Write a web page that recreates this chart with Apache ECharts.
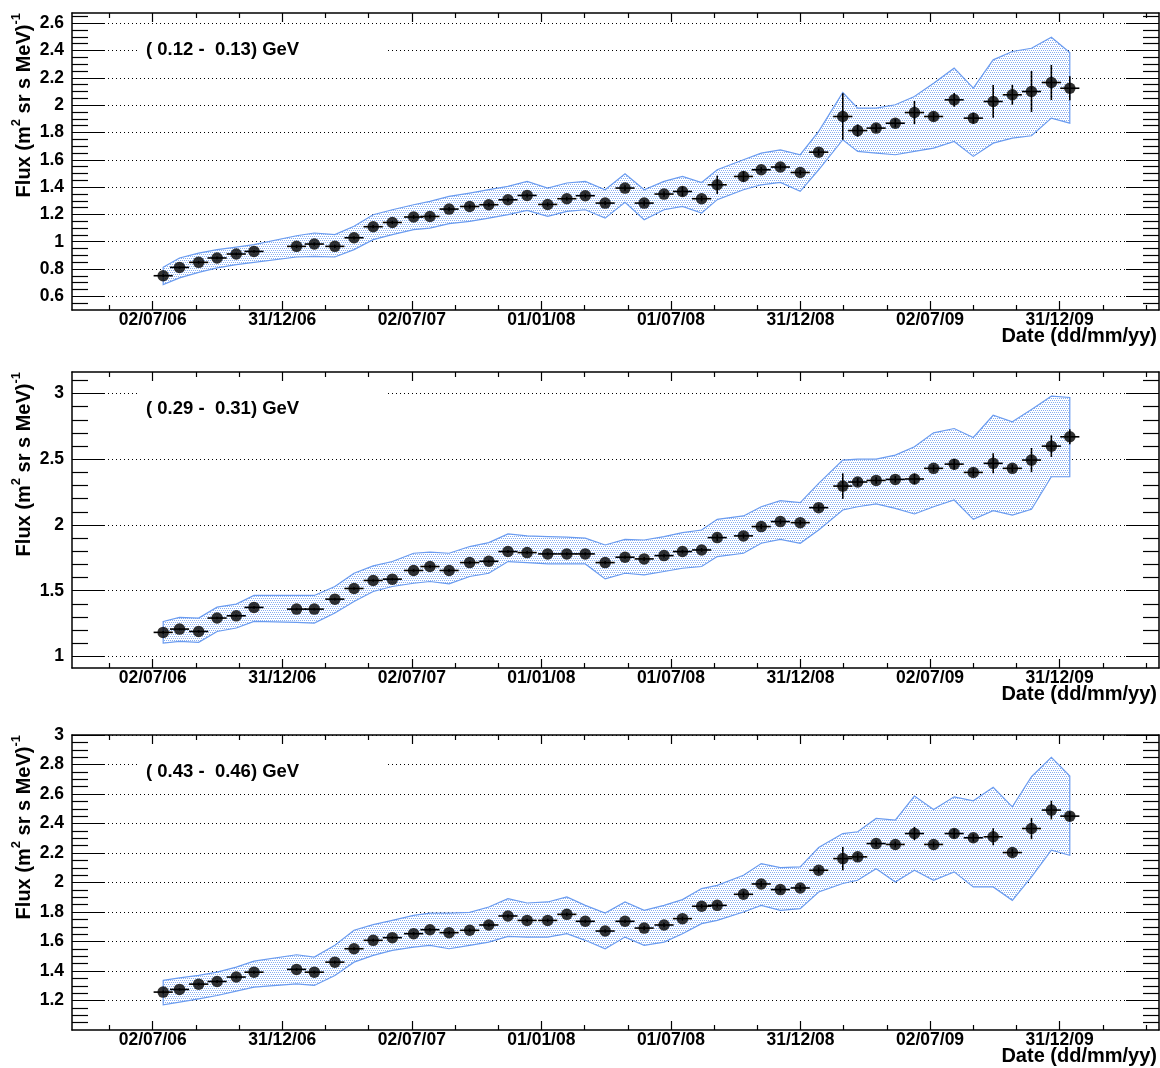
<!DOCTYPE html>
<html>
<head>
<meta charset="utf-8">
<title>Proton flux time profiles</title>
<script src="https://cdn.jsdelivr.net/npm/echarts@6/dist/echarts.min.js"></script>
<style>
  html, body { margin: 0; padding: 0; background: #fff; }
  #chart { width: 1160px; height: 1068px; }
</style>
</head>
<body>
<div id="chart"></div>
<script>
// ---------------------------------------------------------------------------
// Data: one flux value per 27-day interval (mid dates), statistical errors,
// and the upper / lower edges of the systematic-uncertainty band.
// ---------------------------------------------------------------------------
const dates = [
  '2006-07-17', '2006-08-09', '2006-09-05', '2006-10-01', '2006-10-28', '2006-11-22',
  '2007-01-21', '2007-02-15', '2007-03-16', '2007-04-12', '2007-05-09', '2007-06-05',
  '2007-07-05', '2007-07-28', '2007-08-24', '2007-09-22', '2007-10-19', '2007-11-15',
  '2007-12-12', '2008-01-10', '2008-02-06', '2008-03-03', '2008-03-31', '2008-04-28',
  '2008-05-25', '2008-06-22', '2008-07-18', '2008-08-14', '2008-09-05', '2008-10-12',
  '2008-11-06', '2008-12-03', '2008-12-31', '2009-01-26', '2009-03-01', '2009-03-22',
  '2009-04-17', '2009-05-14', '2009-06-10', '2009-07-07', '2009-08-05', '2009-09-01',
  '2009-09-29', '2009-10-26', '2009-11-22', '2009-12-20', '2010-01-15'
];
const HALF_BIN_DAYS = 13.5;

const energyBins = ['( 0.12 -  0.13) GeV', '( 0.29 -  0.31) GeV', '( 0.43 -  0.46) GeV'];

// 0.12 - 0.13 GeV
const flux1 = [0.751, 0.812, 0.849, 0.881, 0.910, 0.929, 0.966, 0.983, 0.966, 1.029, 1.110, 1.141,
  1.181, 1.185, 1.239, 1.258, 1.271, 1.307, 1.339, 1.273, 1.315, 1.337, 1.283, 1.393,
  1.283, 1.349, 1.368, 1.315, 1.417, 1.478, 1.527, 1.547, 1.507, 1.656,
  1.917, 1.814, 1.832, 1.868, 1.946, 1.917, 2.039, 1.905, 2.027, 2.076, 2.100, 2.166, 2.124];
const err1 = [0.010, 0.010, 0.010, 0.010, 0.010, 0.010, 0.012, 0.012, 0.012, 0.012, 0.012, 0.012,
  0.015, 0.015, 0.015, 0.015, 0.015, 0.015, 0.015, 0.015, 0.015, 0.015, 0.015, 0.020,
  0.020, 0.020, 0.035, 0.020, 0.067, 0.037, 0.020, 0.020, 0.020, 0.025,
  0.170, 0.045, 0.030, 0.030, 0.085, 0.030, 0.050, 0.040, 0.120, 0.073, 0.150, 0.128, 0.088];
const sysHigh1 = [0.813, 0.881, 0.917, 0.942, 0.961, 0.979, 1.044, 1.064, 1.052, 1.113, 1.198, 1.234,
  1.271, 1.295, 1.332, 1.356, 1.381, 1.405, 1.442, 1.393, 1.430, 1.442, 1.381, 1.498,
  1.381, 1.442, 1.478, 1.434, 1.527, 1.600, 1.649, 1.673, 1.637, 1.808,
  2.093, 1.978, 1.978, 2.003, 2.064, 2.161, 2.271, 2.125, 2.332, 2.393, 2.417, 2.498, 2.385];
const sysLow1 = [0.686, 0.735, 0.776, 0.808, 0.832, 0.849, 0.888, 0.893, 0.888, 0.942, 1.015, 1.052,
  1.088, 1.100, 1.132, 1.149, 1.173, 1.198, 1.230, 1.186, 1.222, 1.234, 1.173, 1.288,
  1.161, 1.234, 1.259, 1.210, 1.308, 1.381, 1.417, 1.434, 1.369, 1.527,
  1.747, 1.661, 1.649, 1.637, 1.661, 1.686, 1.734, 1.625, 1.722, 1.759, 1.776, 1.905, 1.868];

// 0.29 - 0.31 GeV
const flux2 = [1.183, 1.208, 1.190, 1.292, 1.309, 1.373, 1.360, 1.360, 1.436, 1.517, 1.578, 1.588,
  1.654, 1.684, 1.654, 1.714, 1.724, 1.798, 1.790, 1.780, 1.780, 1.780, 1.714, 1.755,
  1.742, 1.767, 1.798, 1.810, 1.904, 1.917, 1.988, 2.026, 2.018, 2.132,
  2.296, 2.327, 2.339, 2.347, 2.350, 2.431, 2.463, 2.400, 2.469, 2.431, 2.494, 2.600, 2.671];
const err2 = [0.010, 0.010, 0.010, 0.010, 0.010, 0.010, 0.010, 0.010, 0.010, 0.010, 0.010, 0.010,
  0.012, 0.012, 0.012, 0.012, 0.012, 0.012, 0.012, 0.012, 0.012, 0.012, 0.012, 0.012,
  0.015, 0.015, 0.015, 0.015, 0.025, 0.020, 0.020, 0.020, 0.020, 0.025,
  0.097, 0.030, 0.025, 0.025, 0.040, 0.025, 0.040, 0.030, 0.076, 0.030, 0.092, 0.082, 0.057];
const sysHigh2 = [1.266, 1.297, 1.292, 1.375, 1.398, 1.464, 1.464, 1.464, 1.532, 1.633, 1.689, 1.722,
  1.785, 1.793, 1.785, 1.836, 1.866, 1.932, 1.917, 1.912, 1.907, 1.900, 1.848, 1.891,
  1.886, 1.912, 1.942, 1.962, 2.043, 2.069, 2.139, 2.185, 2.170, 2.317,
  2.494, 2.501, 2.501, 2.532, 2.595, 2.701, 2.734, 2.666, 2.835, 2.785, 2.879, 2.980, 2.970];
const sysLow2 = [1.102, 1.114, 1.107, 1.190, 1.216, 1.266, 1.259, 1.254, 1.330, 1.418, 1.494, 1.532,
  1.557, 1.570, 1.552, 1.608, 1.633, 1.722, 1.714, 1.704, 1.704, 1.704, 1.590, 1.633,
  1.621, 1.646, 1.671, 1.684, 1.760, 1.785, 1.861, 1.891, 1.861, 1.962,
  2.114, 2.139, 2.160, 2.127, 2.084, 2.139, 2.190, 2.043, 2.109, 2.076, 2.119, 2.367, 2.367];

// 0.43 - 0.46 GeV
const flux3 = [1.257, 1.275, 1.311, 1.329, 1.359, 1.392, 1.411, 1.392, 1.460, 1.551, 1.608, 1.626,
  1.653, 1.680, 1.660, 1.676, 1.712, 1.773, 1.743, 1.743, 1.784, 1.737, 1.671, 1.737,
  1.691, 1.712, 1.755, 1.839, 1.845, 1.920, 1.990, 1.952, 1.963, 2.083,
  2.162, 2.174, 2.264, 2.258, 2.332, 2.258, 2.332, 2.303, 2.310, 2.203, 2.366, 2.491, 2.450];
const err3 = [0.010, 0.010, 0.010, 0.010, 0.010, 0.010, 0.010, 0.010, 0.010, 0.010, 0.010, 0.010,
  0.012, 0.012, 0.012, 0.012, 0.012, 0.012, 0.012, 0.012, 0.012, 0.012, 0.012, 0.012,
  0.015, 0.015, 0.015, 0.015, 0.015, 0.020, 0.020, 0.020, 0.020, 0.020,
  0.079, 0.025, 0.020, 0.020, 0.045, 0.020, 0.030, 0.025, 0.057, 0.025, 0.072, 0.063, 0.030];
const sysHigh3 = [1.336, 1.354, 1.370, 1.392, 1.426, 1.467, 1.510, 1.494, 1.574, 1.676, 1.714, 1.743,
  1.777, 1.793, 1.793, 1.798, 1.834, 1.891, 1.861, 1.868, 1.902, 1.845, 1.793, 1.868,
  1.811, 1.845, 1.884, 1.959, 1.981, 2.049, 2.128, 2.101, 2.106, 2.237,
  2.332, 2.344, 2.434, 2.423, 2.586, 2.495, 2.581, 2.554, 2.645, 2.513, 2.717, 2.849, 2.722];
const sysLow3 = [1.171, 1.189, 1.211, 1.234, 1.263, 1.291, 1.313, 1.302, 1.370, 1.460, 1.506, 1.540,
  1.562, 1.574, 1.551, 1.574, 1.596, 1.635, 1.630, 1.630, 1.653, 1.608, 1.551, 1.630,
  1.574, 1.596, 1.653, 1.721, 1.743, 1.800, 1.845, 1.811, 1.823, 1.936,
  1.993, 2.015, 2.094, 2.004, 2.083, 2.015, 2.072, 1.970, 1.970, 1.879, 2.038, 2.219, 2.185];

// Time-axis ticks (every half Julian year) and their labels
const xTickDates = ['2006-07-02T06:00', '2006-12-31T21:00', '2007-07-02T12:00', '2008-01-01T03:00',
  '2008-07-01T18:00', '2008-12-31T09:00', '2009-07-02T00:00', '2009-12-31T15:00'];
const xTickLabels = ['02/07/06', '31/12/06', '02/07/07', '01/01/08',
  '01/07/08', '31/12/08', '02/07/09', '31/12/09'];

// Flux-axis major ticks
const yTicks1 = [0.6, 0.8, 1.0, 1.2, 1.4, 1.6, 1.8, 2.0, 2.2, 2.4, 2.6];
const yTicks2 = [1.0, 1.5, 2.0, 2.5, 3.0];
const yTicks3 = [1.2, 1.4, 1.6, 1.8, 2.0, 2.2, 2.4, 2.6, 2.8, 3.0];

// ---------------------------------------------------------------------------
// Helpers
// ---------------------------------------------------------------------------
const DAY = 86400000;
function toTime(s) {
  return Date.parse(s.length === 10 ? s + 'T00:00:00Z' : s + ':00Z');
}
const xTickTimes = xTickDates.map(toTime);
const HALF_YEAR = xTickTimes[1] - xTickTimes[0];
const X_MIN = xTickTimes[0] - 113.8 * DAY;
const X_MAX = xTickTimes[0] + 1418.5 * DAY;

const xMinorTimes = [];
for (let k = -6; k <= 3 * xTickTimes.length + 6; k++) {
  if (k % 3 === 0) continue;
  const v = xTickTimes[0] + k * HALF_YEAR / 3;
  if (v > X_MIN && v < X_MAX) xMinorTimes.push(v);
}

function minorValues(min, max, step, majors) {
  const out = [];
  for (let v = Math.ceil(min / step - 1e-9) * step; v <= max + 1e-9; v += step) {
    const r = Math.round(v * 1000) / 1000;
    if (!majors.some(m => Math.abs(m - r) < 1e-6) && r > min && r < max) out.push(r);
  }
  return out;
}

function xLabel(v) {
  for (let i = 0; i < xTickTimes.length; i++) {
    if (Math.abs(xTickTimes[i] - v) < DAY) return xTickLabels[i];
  }
  return '';
}

function dotPattern() {
  const c = document.createElement('canvas');
  c.width = 4; c.height = 4;
  const g = c.getContext('2d');
  g.fillStyle = '#ffffff';
  g.fillRect(0, 0, 4, 4);
  g.fillStyle = '#86adf0';
  [[0, 0], [2, 0], [1, 2], [3, 2]].forEach(p => g.fillRect(p[0], p[1], 1, 1));
  return { image: c, repeat: 'repeat' };
}

// ---------------------------------------------------------------------------
// Layout of the three stacked pads
// ---------------------------------------------------------------------------
const FONT = 'Liberation Sans, Arial, Helvetica, sans-serif';
const LEFT = 72, WIDTH = 1087;
const panels = [
  { top: 13, height: 297, yMin: 0.5, yMax: 2.675, ticks: yTicks1, minorStep: 0.05,
    flux: flux1, err: err1, hi: sysHigh1, lo: sysLow1, label: energyBins[0] },
  { top: 372, height: 296, yMin: 0.912, yMax: 3.164, ticks: yTicks2, minorStep: 0.1,
    flux: flux2, err: err2, hi: sysHigh2, lo: sysLow2, label: energyBins[1] },
  { top: 735, height: 295, yMin: 1.0, yMax: 3.0, ticks: yTicks3, minorStep: 0.05,
    flux: flux3, err: err3, hi: sysHigh3, lo: sysLow3, label: energyBins[2] }
];

const grid = [], xAxis = [], yAxis = [], series = [], graphic = [];
const frameLine = { show: true, onZero: false, lineStyle: { color: '#000', width: 1.5 } };
const noLine = { show: false, onZero: false };
const tickLine = { color: '#000', width: 1.2 };
const labelFont = { fontFamily: FONT, fontWeight: 'bold', fontSize: 17.5, color: '#000' };
const pattern = dotPattern();

panels.forEach((p, pi) => {
  grid.push({ left: LEFT, top: p.top, width: WIDTH, height: p.height, outerBoundsMode: 'none', containLabel: false });
  const yMinor = minorValues(p.yMin, p.yMax, p.minorStep, p.ticks);

  const xBase = { type: 'value', gridIndex: pi, min: X_MIN, max: X_MAX, splitLine: { show: false } };
  // bottom: major ticks + labels, minor ticks; top: the same without labels
  xAxis.push(Object.assign({}, xBase, {
    position: 'bottom', axisLine: frameLine,
    axisTick: { show: true, inside: true, length: 9, customValues: xTickTimes, lineStyle: tickLine },
    axisLabel: Object.assign({ show: true, margin: 1, customValues: xTickTimes, formatter: xLabel }, labelFont)
  }));
  xAxis.push(Object.assign({}, xBase, {
    position: 'bottom', axisLine: noLine,
    axisTick: { show: true, inside: true, length: 5, customValues: xMinorTimes, lineStyle: tickLine },
    axisLabel: { show: false }
  }));
  xAxis.push(Object.assign({}, xBase, {
    position: 'top', axisLine: frameLine,
    axisTick: { show: true, inside: true, length: 9, customValues: xTickTimes, lineStyle: tickLine },
    axisLabel: { show: false }
  }));
  xAxis.push(Object.assign({}, xBase, {
    position: 'top', axisLine: noLine,
    axisTick: { show: true, inside: true, length: 5, customValues: xMinorTimes, lineStyle: tickLine },
    axisLabel: { show: false }
  }));

  const yBase = { type: 'value', gridIndex: pi, min: p.yMin, max: p.yMax };
  yAxis.push(Object.assign({}, yBase, {
    position: 'left', axisLine: frameLine,
    axisTick: { show: true, inside: true, length: 33, customValues: p.ticks, lineStyle: tickLine },
    axisLabel: Object.assign({ show: true, margin: 8, customValues: p.ticks,
      formatter: v => String(Math.round(v * 100) / 100) }, labelFont),
    splitLine: { show: true, lineStyle: { color: '#000', width: 1, type: [1, 3] } }
  }));
  yAxis.push(Object.assign({}, yBase, {
    position: 'left', axisLine: noLine, splitLine: { show: false },
    axisTick: { show: true, inside: true, length: 16, customValues: yMinor, lineStyle: tickLine },
    axisLabel: { show: false }
  }));
  yAxis.push(Object.assign({}, yBase, {
    position: 'right', axisLine: frameLine, splitLine: { show: false },
    axisTick: { show: true, inside: true, length: 33, customValues: p.ticks, lineStyle: tickLine },
    axisLabel: { show: false }
  }));
  yAxis.push(Object.assign({}, yBase, {
    position: 'right', axisLine: noLine, splitLine: { show: false },
    axisTick: { show: true, inside: true, length: 16, customValues: yMinor, lineStyle: tickLine },
    axisLabel: { show: false }
  }));

  const xi = pi * 4, yi = pi * 4;
  const times = dates.map(toTime);

  // systematic band: one closed polygon through the upper and lower edges
  series.push({
    type: 'custom', xAxisIndex: xi, yAxisIndex: yi, z: 1, silent: true,
    data: times.map((t, i) => [t, p.lo[i], p.hi[i]]),
    encode: { x: 0, y: [1, 2] },
    renderItem: (params, api) => {
      if (params.dataIndex !== 0) return null;
      const pts = [];
      for (let i = 0; i < times.length; i++) pts.push(api.coord([times[i], p.hi[i]]));
      for (let i = times.length - 1; i >= 0; i--) pts.push(api.coord([times[i], p.lo[i]]));
      return { type: 'polygon', shape: { points: pts },
        style: { fill: pattern, stroke: '#6b9cf0', lineWidth: 1.2 } };
    }
  });

  // error bars: time bin width horizontally, statistical error vertically
  series.push({
    type: 'custom', xAxisIndex: xi, yAxisIndex: yi, z: 2, silent: true,
    data: times.map((t, i) => [t, p.flux[i], p.err[i]]),
    encode: { x: 0, y: 1 },
    renderItem: (params, api) => {
      const t = api.value(0), y = api.value(1), e = api.value(2);
      const a = api.coord([t - HALF_BIN_DAYS * DAY, y]);
      const b = api.coord([t + HALF_BIN_DAYS * DAY, y]);
      const c = api.coord([t, y + e]);
      const d = api.coord([t, y - e]);
      const st = { stroke: '#000', lineWidth: 1.6 };
      return { type: 'group', children: [
        { type: 'line', shape: { x1: a[0], y1: a[1], x2: b[0], y2: b[1] }, style: st },
        { type: 'line', shape: { x1: c[0], y1: c[1], x2: d[0], y2: d[1] }, style: st }
      ] };
    }
  });

  series.push({
    type: 'scatter', xAxisIndex: xi, yAxisIndex: yi, z: 3, silent: true,
    symbol: 'circle', symbolSize: 11.5,
    itemStyle: { color: '#000' },
    data: times.map((t, i) => [t, p.flux[i]])
  });

  // energy-bin caption on a white box
  const cy = p.top + 37;
  graphic.push({ type: 'rect', z: 50, silent: true,
    shape: { x: 137, y: cy - 19, width: 248, height: 36 }, style: { fill: '#fff' } });
  graphic.push({ type: 'text', z: 51, silent: true, x: 146, y: cy,
    style: { text: p.label, fill: '#000', font: 'bold 18.5px ' + FONT, align: 'left', verticalAlign: 'middle' } });

  // axis titles
  graphic.push({ type: 'text', z: 51, silent: true, x: 22, y: p.top, rotation: Math.PI / 2,
    style: {
      text: '{t|Flux (m}{s|2}{t| sr s MeV)}{s|-1}',
      align: 'right', verticalAlign: 'middle', fill: '#000',
      rich: {
        t: { font: 'bold 20px ' + FONT, fill: '#000', verticalAlign: 'bottom' },
        s: { font: 'bold 13px ' + FONT, fill: '#000', verticalAlign: 'top', padding: [0, 0, 11, 0] }
      }
    } });
  graphic.push({ type: 'text', z: 51, silent: true, x: 1157, y: p.top + p.height + 26,
    style: { text: 'Date (dd/mm/yy)', fill: '#000', font: 'bold 20px ' + FONT, align: 'right', verticalAlign: 'middle' } });
});

const chart = echarts.init(document.getElementById('chart'), null, { renderer: 'canvas' });
chart.setOption({
  animation: false,
  backgroundColor: '#fff',
  grid, xAxis, yAxis, series, graphic
});
</script>
</body>
</html>
